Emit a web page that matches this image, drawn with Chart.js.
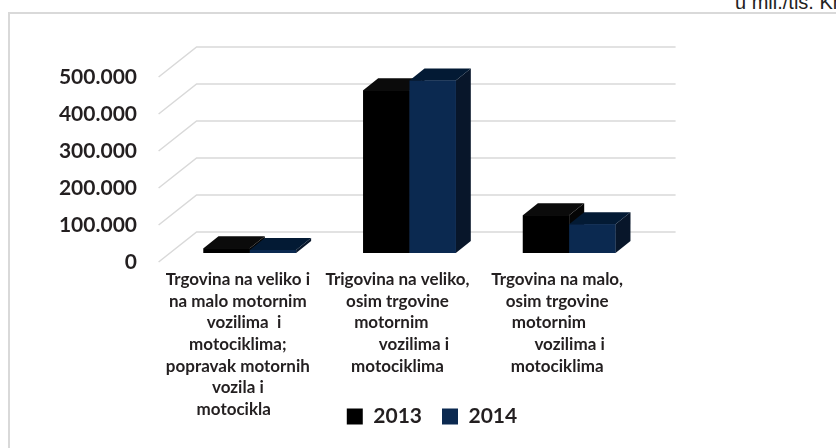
<!DOCTYPE html>
<html lang="hr">
<head>
<meta charset="UTF-8">
<title>Trgovina 2013 - 2014</title>
<script src="https://cdn.jsdelivr.net/npm/chart.js@4.4.1/dist/chart.umd.min.js"></script>
<style>
  html, body { margin: 0; padding: 0; background: #fff; overflow: hidden; }
  body { width: 836px; height: 448px; position: relative; }
  .okvir { position: absolute; left: 8px; top: 12px; width: 900px; height: 500px; border: 2px solid #d9d9d9; }
  .jedinica { position: absolute; left: 735px; top: -9px; font: 20px "Liberation Sans", Arial, sans-serif; color: #222; white-space: nowrap; }
  #grafikon { position: absolute; left: 0; top: 0; }
</style>
</head>
<body>
<div class="okvir"></div>
<div class="jedinica">u mil./tis. Kn</div>
<canvas id="grafikon" width="836" height="448"></canvas>

<script>
// podaci
const kategorije = [
  ['Trgovina na veliko i', 'na malo motornim', '   vozilima  i', 'motociklima;', 'popravak motornih', 'vozila i', 'motocikla  '],
  ['Trigovina na veliko,', 'osim trgovine', 'motornim   ', '        vozilima i', 'motociklima'],
  ['Trgovina na malo,', 'osim trgovine', 'motornim    ', '      vozilima i', 'motociklima']
];
const godine = ['2013', '2014'];
const vrijednosti2013 = [13000, 440000, 102000];
const vrijednosti2014 = [8000, 466000, 78000];
const yOznake = [0, 100000, 200000, 300000, 400000, 500000];

// 3D izgled
const DUBINA_X = 38, DUBINA_Y = 30;   // dubina poda
const POMAK = 0.3;                     // stupci su malo iza prednjeg ruba
const STUPAC_X = 15, STUPAC_Y = 12;    // dubina stupca
const boje = [
  { lice: '#000000', vrh: '#0b0b0b', bok: '#050505' },
  { lice: '#0b2950', vrh: '#031a34', bok: '#08162a' }
];

function tocke(ctx, pts, boja) {
  ctx.beginPath();
  ctx.moveTo(pts[0][0], pts[0][1]);
  for (let i = 1; i < pts.length; i++) ctx.lineTo(pts[i][0], pts[i][1]);
  ctx.closePath();
  ctx.fillStyle = boja;
  ctx.fill();
}

const mreza3d = {
  id: 'mreza3d',
  afterLayout(chart) {
    // natpisi kategorija smiju ici ispod okvira osi (pored legende)
    chart.scales.x.bottom = chart.height;
  },
  beforeDatasetsDraw(chart) {
    const ctx = chart.ctx, y = chart.scales.y, a = chart.chartArea;
    const bx = DUBINA_X * (1 - POMAK), by = DUBINA_Y * (1 - POMAK);
    ctx.save();
    ctx.strokeStyle = '#d9d9d9';
    ctx.lineWidth = 1.5;
    yOznake.forEach(v => {
      const py = y.getPixelForValue(v) - by;
      ctx.beginPath();
      ctx.moveTo(a.right + bx, py);
      ctx.lineTo(a.left + bx, py);
      ctx.lineTo(a.left + bx - DUBINA_X, py + DUBINA_Y);
      ctx.stroke();
    });
    ctx.restore();
  },
  afterDatasetsDraw(chart) {
    const ctx = chart.ctx;
    ctx.save();
    for (let i = 0; i < kategorije.length; i++) {
      chart.data.datasets.forEach((ds, d) => {
        const el = chart.getDatasetMeta(d).data[i];
        const l = el.x - el.width / 2, r = el.x + el.width / 2, t = el.y, b = el.base;
        tocke(ctx, [[r, t], [r + STUPAC_X, t - STUPAC_Y], [r + STUPAC_X, b - STUPAC_Y], [r, b]], boje[d].bok);
        tocke(ctx, [[l, t], [r, t], [r + STUPAC_X, t - STUPAC_Y], [l + STUPAC_X, t - STUPAC_Y]], boje[d].vrh);
        tocke(ctx, [[l, t], [r, t], [r, b], [l, b]], boje[d].lice);
      });
    }
    ctx.restore();
  }
};

const tekst = '#231f20';
const font = 'Lato, "Open Sans", sans-serif';

new Chart(document.getElementById('grafikon'), {
  type: 'bar',
  data: {
    labels: kategorije,
    datasets: [
      { label: godine[0], data: vrijednosti2013, backgroundColor: boje[0].lice },
      { label: godine[1], data: vrijednosti2014, backgroundColor: boje[1].lice }
    ]
  },
  options: {
    responsive: false,
    animation: false,
    layout: { padding: { left: 28, right: 0, top: 68, bottom: 11 } },
    datasets: { bar: { categoryPercentage: 0.58, barPercentage: 1 } },
    plugins: {
      tooltip: { enabled: false },
      legend: {
        position: 'bottom',
        labels: {
          color: tekst,
          font: { family: font, size: 21, weight: 'bold' },
          boxWidth: 16, boxHeight: 16,
          padding: 20
        }
      }
    },
    scales: {
      x: {
        grid: { display: false, drawTicks: false },
        border: { display: false },
        ticks: {
          color: tekst,
          font: { family: font, size: 17, weight: 'bold', lineHeight: 1.27 },
          maxRotation: 0, autoSkip: false,
          padding: 16,
          labelOffset: -12
        },
        afterFit(s) { s.height = 133; }
      },
      y: {
        min: 0, max: 500000,
        grid: { display: false, drawTicks: false },
        border: { display: false },
        ticks: {
          stepSize: 100000,
          color: tekst,
          font: { family: font, size: 21, weight: 'bold' },
          padding: 33,
          labelOffset: 9,
          callback: v => String(v).replace(/\B(?=(\d{3})+(?!\d))/g, '.')
        },
        afterFit(s) { s.width = 142; }
      },
      desno: {
        type: 'linear',
        position: 'right',
        grid: { display: false, drawTicks: false },
        border: { display: false },
        ticks: { display: false },
        afterFit(s) { s.width = 187; }
      }
    }
  },
  plugins: [mreza3d]
});
</script>
</body>
</html>
